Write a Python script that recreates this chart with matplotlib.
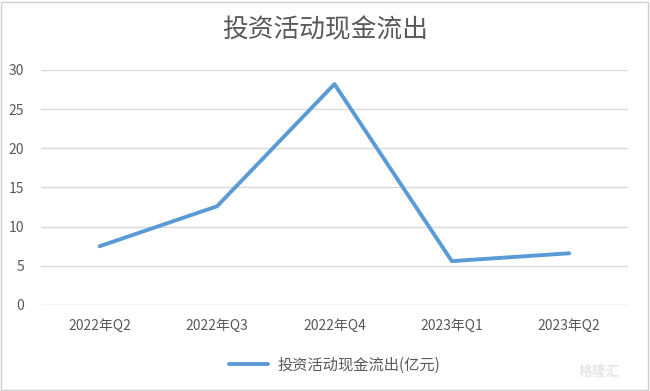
import matplotlib.pyplot as plt
from matplotlib.patches import Rectangle

plt.rcParams['font.family'] = ['Noto Sans CJK SC', 'DejaVu Sans']

quarters = ['2022年Q2', '2022年Q3', '2022年Q4', '2023年Q1', '2023年Q2']
outflow = [7.5, 12.6, 28.2, 5.6, 6.6]
yticks = [0, 5, 10, 15, 20, 25, 30]

fig = plt.figure(figsize=(6.5, 3.91), dpi=100)
ax = fig.add_axes([0.063, 0.22, 0.903, 0.601])

x = range(len(quarters))
ax.plot(x, outflow, color='#5b9bd5', lw=2.8, solid_capstyle='round',
        label='投资活动现金流出(亿元)')

ax.set_xlim(-0.5, len(quarters) - 0.5)
ax.set_ylim(0, 30)
ax.set_yticks(yticks)
ax.set_xticks(list(x))
ax.set_xticklabels(quarters)
ax.tick_params(length=0, labelsize=10, colors='#595959')
ax.tick_params(axis='x', pad=10)
ax.tick_params(axis='y', pad=12)
ax.grid(axis='y', color='#d9d9d9', lw=1)
ax.set_axisbelow(True)
for s in ax.spines.values():
    s.set_visible(False)

fig.text(0.5, 0.923, '投资活动现金流出', ha='center', va='center',
         fontsize=18.5, color='#595959')

ax.legend(loc='upper center', bbox_to_anchor=(0.5, -0.16), frameon=False,
          fontsize=11, labelcolor='#595959', handlelength=2.6, handletextpad=0.6)

fig.patches.append(Rectangle((0.002, 0.003), 0.995, 0.993, transform=fig.transFigure,
                             fill=False, edgecolor='#d0d0d0', lw=1))
fig.text(0.955, 0.03, '格隆汇', ha='right', va='bottom', fontsize=10,
         color='#e6e6e6', fontweight='bold')

fig.savefig('out.png', dpi=100, facecolor='white')
